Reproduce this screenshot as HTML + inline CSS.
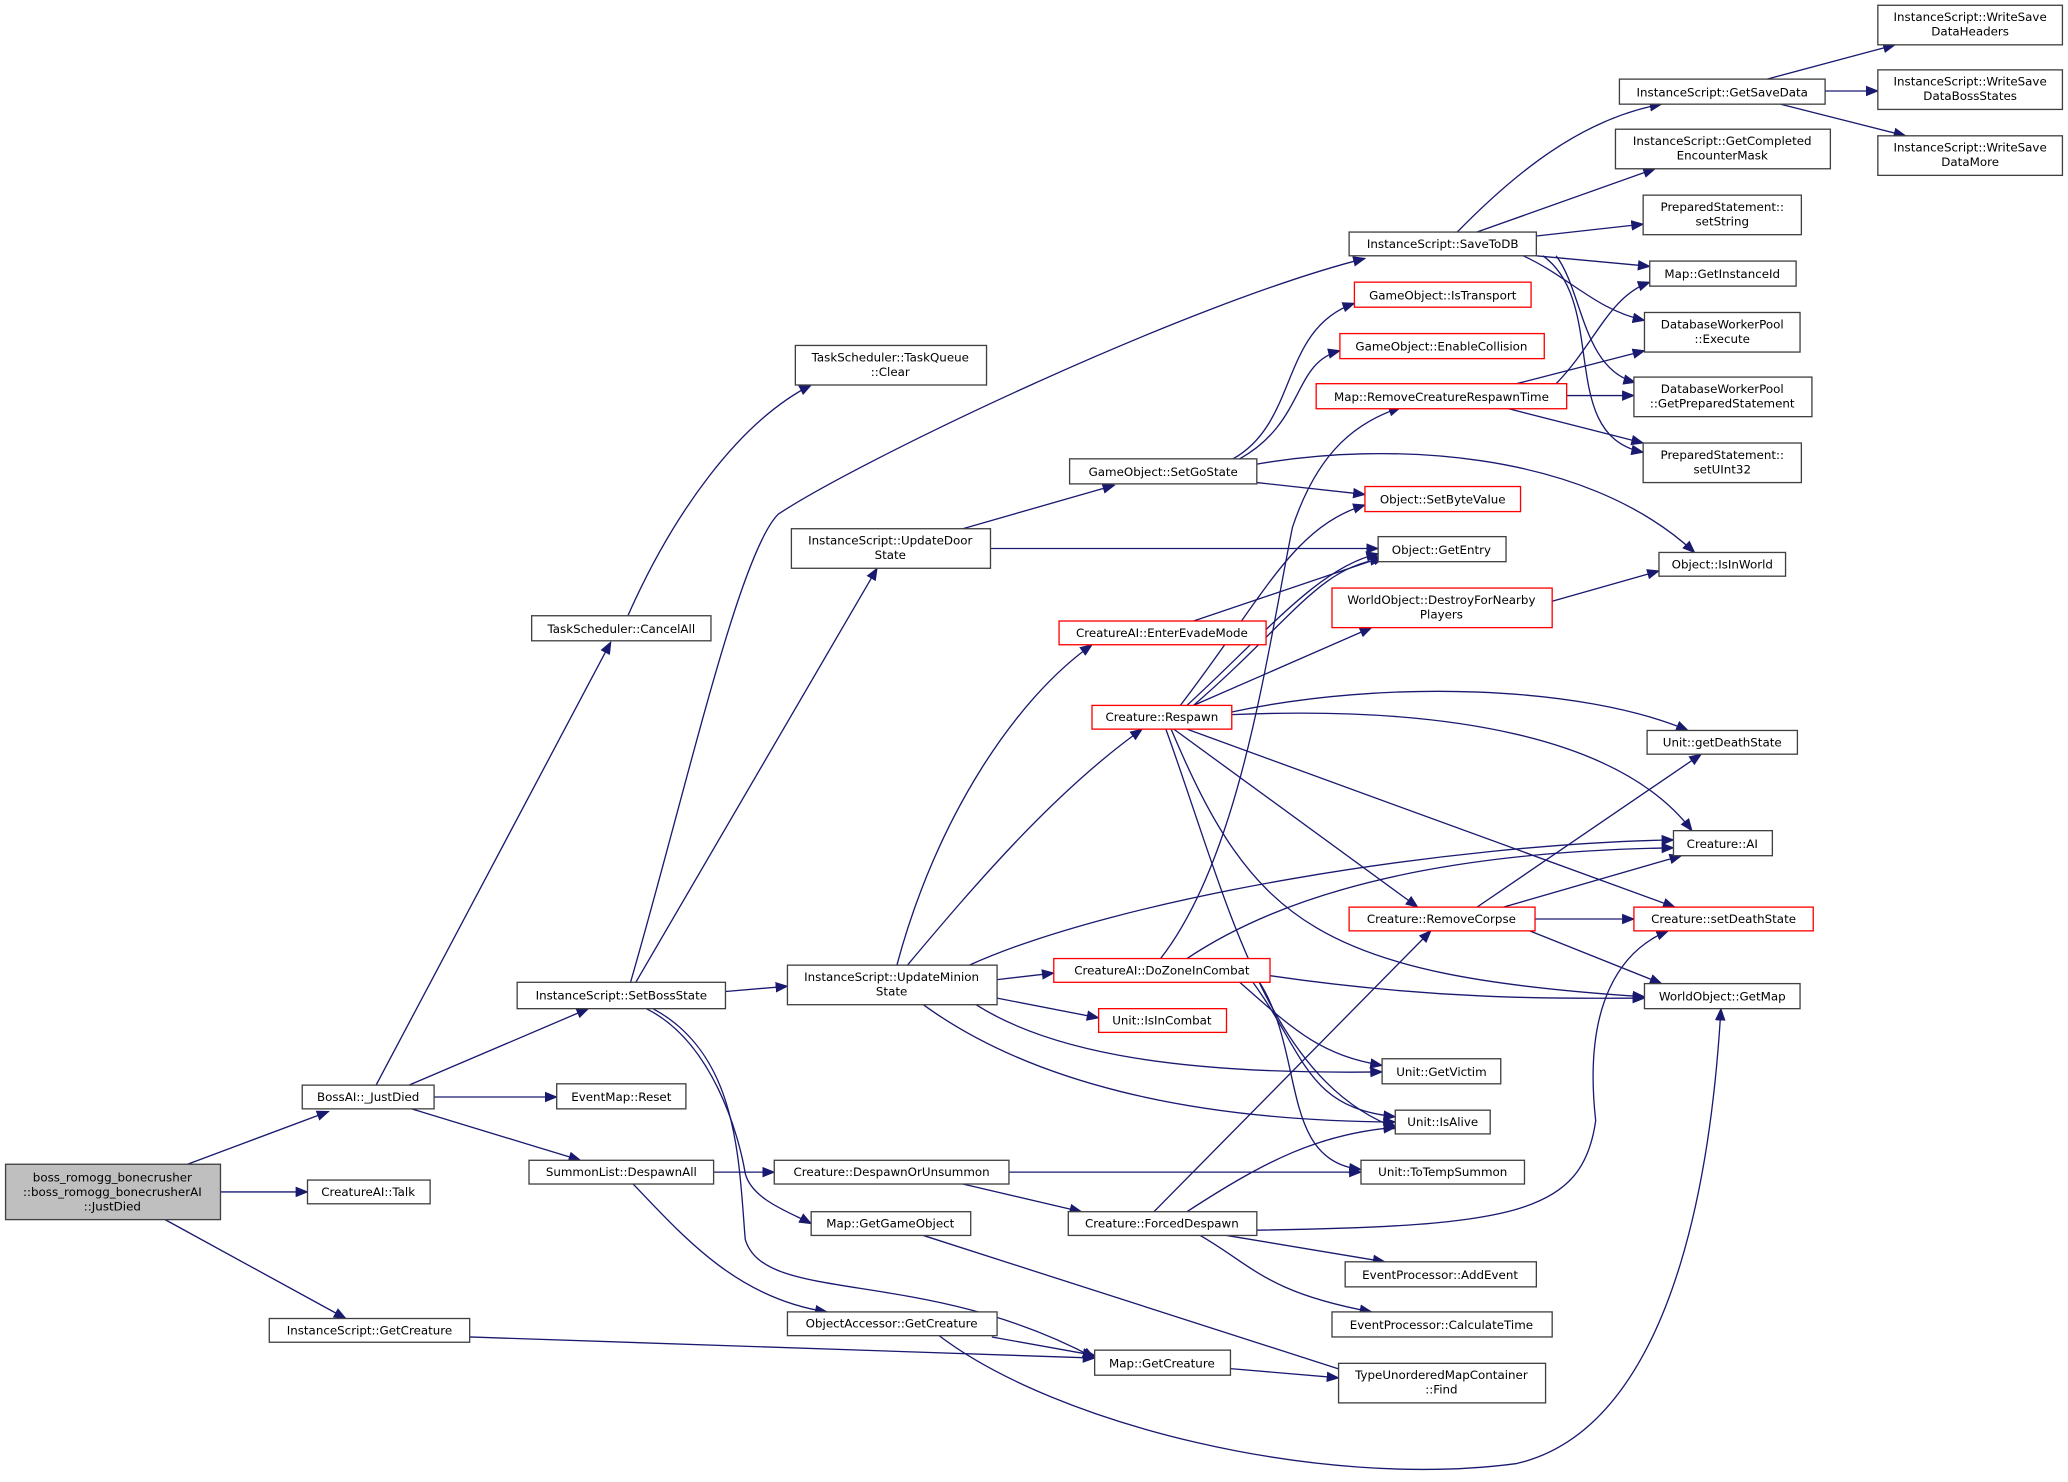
<!DOCTYPE html>
<html><head><meta charset="utf-8"><style>
html,body{margin:0;padding:0;background:#fff;}
svg{display:block;}
text{font-family:"DejaVu Sans","Liberation Sans",sans-serif;font-size:9px;fill:#000;text-anchor:middle;}
.n{fill:#fff;stroke:#404040;stroke-width:1;}
.r{fill:#fff;stroke:#ff0000;stroke-width:1;}
.g{fill:#bfbfbf;stroke:#404040;stroke-width:1;}
.e{fill:none;stroke:#191970;stroke-width:1;marker-end:url(#a);}
</style></head><body>
<svg width="2068" height="1482" viewBox="0 0 1568 1124" xmlns="http://www.w3.org/2000/svg">
<defs><marker id="a" markerWidth="10" markerHeight="8" refX="9" refY="4" orient="auto" markerUnits="userSpaceOnUse"><path d="M0,0 L10,4 L0,8 Z" fill="#191970"/></marker></defs>
<g>
<path class="e" d="M142,883 L249,843"/>
<path class="e" d="M167,904 L233,904"/>
<path class="e" d="M125,925 L262,1000"/>
<path class="e" d="M285,823 L463,487"/>
<path class="e" d="M310,823 L446,765"/>
<path class="e" d="M329,832 L422,832"/>
<path class="e" d="M312,841 L440,880"/>
<path class="e" d="M356,1014 L830,1030"/>
<path class="e" d="M476,467 C510,390 560,320 615,292"/>
<path class="e" d="M478,745 C520,600 560,420 590,390 C650,350 900,230 1035,196"/>
<path class="e" d="M482,745 L665,431"/>
<path class="e" d="M550,752 L597,748"/>
<path class="e" d="M490,765 C540,790 560,860 565,890 C570,910 600,920 615,928"/>
<path class="e" d="M495,765 C560,800 560,880 565,940 C580,990 700,960 830,1030"/>
<path class="e" d="M541,889 L587,889"/>
<path class="e" d="M480,898 C520,940 560,985 627,995"/>
<path class="e" d="M730,401 L845,368"/>
<path class="e" d="M751,416 L1045,416"/>
<path class="e" d="M680,732 C710,620 770,530 828,489"/>
<path class="e" d="M688,732 C740,670 800,600 866,553"/>
<path class="e" d="M735,732 C850,680 1100,640 1269,637"/>
<path class="e" d="M756,743 L799,738"/>
<path class="e" d="M756,757 L833,772"/>
<path class="e" d="M740,762 C800,800 900,815 1048,813"/>
<path class="e" d="M700,762 C780,820 900,850 1058,851"/>
<path class="e" d="M765,889 L1032,889"/>
<path class="e" d="M730,898 L820,919"/>
<path class="e" d="M700,937 L1030,1043"/>
<path class="e" d="M752,1014 L830,1028"/>
<path class="e" d="M712,1013 C800,1080 1000,1130 1150,1110 C1280,1080 1300,850 1305,765"/>
<path class="e" d="M933,1038 L1015,1045"/>
<path class="e" d="M935,348 C985,320 970,250 1027,230"/>
<path class="e" d="M940,348 C990,320 980,275 1016,266"/>
<path class="e" d="M953,366 L1035,375"/>
<path class="e" d="M953,352 C1050,335 1200,340 1285,419"/>
<path class="e" d="M1105,176 C1150,130 1200,90 1260,79"/>
<path class="e" d="M1120,176 L1255,128"/>
<path class="e" d="M1165,179 L1246,170"/>
<path class="e" d="M1165,194 L1251,202"/>
<path class="e" d="M1155,194 C1190,210 1210,235 1247,243"/>
<path class="e" d="M1180,194 C1200,220 1200,280 1240,290"/>
<path class="e" d="M1170,194 C1220,230 1180,330 1246,343"/>
<path class="e" d="M1340,60 L1437,34"/>
<path class="e" d="M1384,69 L1424,69"/>
<path class="e" d="M1350,79 L1445,103"/>
<path class="e" d="M1180,291 C1210,260 1220,225 1251,214"/>
<path class="e" d="M1150,291 L1247,266"/>
<path class="e" d="M1188,300 L1239,300"/>
<path class="e" d="M1140,309 L1246,336"/>
<path class="e" d="M905,471 L1050,422"/>
<path class="e" d="M900,535 C960,480 1000,430 1045,420"/>
<path class="e" d="M905,535 C980,470 1000,430 1048,424"/>
<path class="e" d="M895,535 C960,450 980,400 1035,383"/>
<path class="e" d="M905,535 L1040,476"/>
<path class="e" d="M934,540 C1050,515 1200,520 1280,554"/>
<path class="e" d="M934,542 C1100,535 1230,560 1283,630"/>
<path class="e" d="M890,553 L1075,688"/>
<path class="e" d="M900,553 L1270,688"/>
<path class="e" d="M888,553 C950,700 1000,740 1247,756"/>
<path class="e" d="M884,553 C930,680 960,820 1060,856"/>
<path class="e" d="M880,727 C940,650 960,500 980,400 C1000,340 1030,320 1062,309"/>
<path class="e" d="M900,727 C1000,660 1150,645 1269,643"/>
<path class="e" d="M963,740 C1100,760 1200,757 1247,757"/>
<path class="e" d="M940,745 C980,780 1000,800 1048,808"/>
<path class="e" d="M950,745 C990,800 990,840 1058,847"/>
<path class="e" d="M955,745 C990,800 970,880 1032,887"/>
<path class="e" d="M1120,688 L1290,572"/>
<path class="e" d="M1140,688 L1275,649"/>
<path class="e" d="M1164,697 L1239,697"/>
<path class="e" d="M1160,706 L1260,746"/>
<path class="e" d="M1177,456 L1258,433"/>
<path class="e" d="M875,919 L1085,706"/>
<path class="e" d="M900,919 C960,880 1000,860 1058,855"/>
<path class="e" d="M953,933 C1150,930 1200,920 1210,850 C1200,760 1230,720 1265,706"/>
<path class="e" d="M930,937 L1050,957"/>
<path class="e" d="M910,937 C950,960 960,980 1040,995"/>
</g>
<g>
<rect class="g" x="4" y="883" width="163" height="42"/><text x="85" y="896">boss_romogg_bonecrusher</text><text x="85" y="907">::boss_romogg_bonecrusherAI</text><text x="85" y="918">::JustDied</text>
<rect class="n" x="229" y="823" width="100" height="18"/><text x="279" y="835">BossAI::_JustDied</text>
<rect class="n" x="233" y="895" width="93" height="18"/><text x="279" y="907">CreatureAI::Talk</text>
<rect class="n" x="204" y="1000" width="152" height="18"/><text x="280" y="1012">InstanceScript::GetCreature</text>
<rect class="n" x="403" y="467" width="136" height="19"/><text x="471" y="480">TaskScheduler::CancelAll</text>
<rect class="n" x="603" y="262" width="145" height="30"/><text x="675" y="274">TaskScheduler::TaskQueue</text><text x="675" y="285">::Clear</text>
<rect class="n" x="392" y="745" width="158" height="20"/><text x="471" y="758">InstanceScript::SetBossState</text>
<rect class="n" x="422" y="822" width="98" height="19"/><text x="471" y="835">EventMap::Reset</text>
<rect class="n" x="401" y="880" width="140" height="18"/><text x="471" y="892">SummonList::DespawnAll</text>
<rect class="n" x="600" y="401" width="151" height="30"/><text x="675" y="413">InstanceScript::UpdateDoor</text><text x="675" y="424">State</text>
<rect class="n" x="597" y="732" width="159" height="30"/><text x="676" y="744">InstanceScript::UpdateMinion</text><text x="676" y="755">State</text>
<rect class="n" x="587" y="880" width="178" height="18"/><text x="676" y="892">Creature::DespawnOrUnsummon</text>
<rect class="n" x="615" y="919" width="121" height="18"/><text x="675" y="931">Map::GetGameObject</text>
<rect class="n" x="597" y="995" width="159" height="18"/><text x="676" y="1007">ObjectAccessor::GetCreature</text>
<rect class="n" x="830" y="1024" width="103" height="19"/><text x="881" y="1037">Map::GetCreature</text>
<rect class="n" x="811" y="348" width="142" height="19"/><text x="882" y="361">GameObject::SetGoState</text>
<rect class="n" x="1023" y="176" width="142" height="18"/><text x="1094" y="188">InstanceScript::SaveToDB</text>
<rect class="r" x="803" y="471" width="157" height="18"/><text x="881" y="483">CreatureAI::EnterEvadeMode</text>
<rect class="r" x="828" y="535" width="106" height="18"/><text x="881" y="547">Creature::Respawn</text>
<rect class="r" x="799" y="727" width="164" height="18"/><text x="881" y="739">CreatureAI::DoZoneInCombat</text>
<rect class="r" x="833" y="765" width="97" height="18"/><text x="881" y="777">Unit::IsInCombat</text>
<rect class="n" x="810" y="919" width="143" height="18"/><text x="881" y="931">Creature::ForcedDespawn</text>
<rect class="r" x="1027" y="214" width="134" height="19"/><text x="1094" y="227">GameObject::IsTransport</text>
<rect class="r" x="1016" y="253" width="155" height="19"/><text x="1093" y="266">GameObject::EnableCollision</text>
<rect class="r" x="998" y="291" width="190" height="19"/><text x="1093" y="304">Map::RemoveCreatureRespawnTime</text>
<rect class="r" x="1035" y="369" width="118" height="19"/><text x="1094" y="382">Object::SetByteValue</text>
<rect class="n" x="1045" y="407" width="97" height="19"/><text x="1093" y="420">Object::GetEntry</text>
<rect class="r" x="1010" y="446" width="167" height="30"/><text x="1093" y="458">WorldObject::DestroyForNearby</text><text x="1093" y="469">Players</text>
<rect class="r" x="1023" y="688" width="141" height="18"/><text x="1093" y="700">Creature::RemoveCorpse</text>
<rect class="n" x="1048" y="803" width="90" height="19"/><text x="1093" y="816">Unit::GetVictim</text>
<rect class="n" x="1058" y="842" width="72" height="18"/><text x="1094" y="854">Unit::IsAlive</text>
<rect class="n" x="1032" y="880" width="124" height="18"/><text x="1094" y="892">Unit::ToTempSummon</text>
<rect class="n" x="1020" y="957" width="145" height="19"/><text x="1092" y="970">EventProcessor::AddEvent</text>
<rect class="n" x="1010" y="995" width="167" height="19"/><text x="1093" y="1008">EventProcessor::CalculateTime</text>
<rect class="n" x="1015" y="1034" width="157" height="30"/><text x="1093" y="1046">TypeUnorderedMapContainer</text><text x="1093" y="1057">::Find</text>
<rect class="n" x="1228" y="60" width="156" height="19"/><text x="1306" y="73">InstanceScript::GetSaveData</text>
<rect class="n" x="1225" y="98" width="163" height="30"/><text x="1306" y="110">InstanceScript::GetCompleted</text><text x="1306" y="121">EncounterMask</text>
<rect class="n" x="1246" y="148" width="120" height="30"/><text x="1306" y="160">PreparedStatement::</text><text x="1306" y="171">setString</text>
<rect class="n" x="1251" y="198" width="111" height="19"/><text x="1306" y="211">Map::GetInstanceId</text>
<rect class="n" x="1247" y="237" width="118" height="30"/><text x="1306" y="249">DatabaseWorkerPool</text><text x="1306" y="260">::Execute</text>
<rect class="n" x="1239" y="286" width="135" height="30"/><text x="1306" y="298">DatabaseWorkerPool</text><text x="1306" y="309">::GetPreparedStatement</text>
<rect class="n" x="1246" y="336" width="120" height="30"/><text x="1306" y="348">PreparedStatement::</text><text x="1306" y="359">setUInt32</text>
<rect class="n" x="1258" y="419" width="96" height="18"/><text x="1306" y="431">Object::IsInWorld</text>
<rect class="n" x="1249" y="554" width="114" height="18"/><text x="1306" y="566">Unit::getDeathState</text>
<rect class="n" x="1269" y="630" width="75" height="19"/><text x="1306" y="643">Creature::AI</text>
<rect class="r" x="1239" y="688" width="136" height="18"/><text x="1307" y="700">Creature::setDeathState</text>
<rect class="n" x="1247" y="746" width="118" height="19"/><text x="1306" y="759">WorldObject::GetMap</text>
<rect class="n" x="1424" y="4" width="140" height="30"/><text x="1494" y="16">InstanceScript::WriteSave</text><text x="1494" y="27">DataHeaders</text>
<rect class="n" x="1424" y="53" width="140" height="30"/><text x="1494" y="65">InstanceScript::WriteSave</text><text x="1494" y="76">DataBossStates</text>
<rect class="n" x="1424" y="103" width="140" height="30"/><text x="1494" y="115">InstanceScript::WriteSave</text><text x="1494" y="126">DataMore</text>
</g>
</svg>
</body></html>
